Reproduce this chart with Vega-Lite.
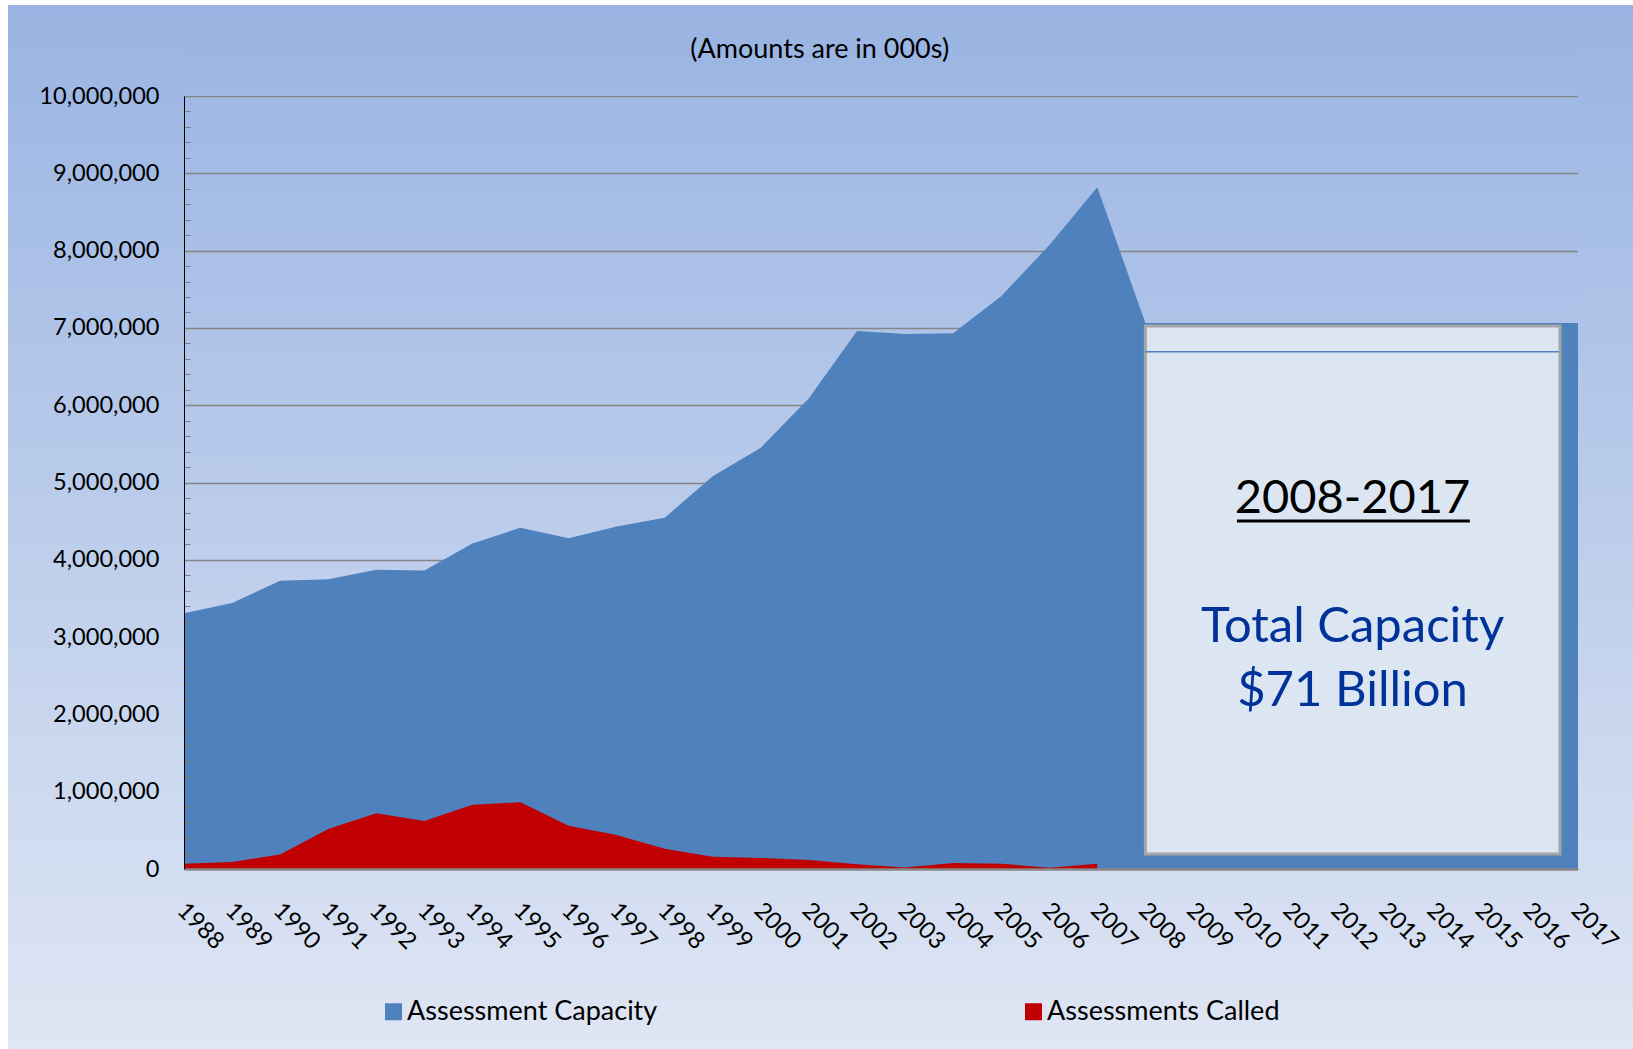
{
  "$schema": "https://vega.github.io/schema/vega-lite/v6.json",
  "width": 1394,
  "height": 773,
  "autosize": {"type": "none"},
  "padding": {"left": 184, "top": 96, "right": 55, "bottom": 180},
  "background": "white",
  "config": {
    "font": "Lato",
    "view": {
      "stroke": null,
      "fill": {"gradient": "linear", "x1": 0, "y1": 0, "x2": 0, "y2": 1, "stops": [{"offset": 0, "color": "#9fb8e4"}, {"offset": 1, "color": "#d3ddf1"}]}
    },
    "axis": {"labelFont": "Lato", "labelColor": "black"},
    "legend": {"labelFont": "Lato", "labelColor": "black"}
  },
  "datasets": {
    "one": [{}],
    "main": [
      {"year": 1988, "series": "Assessment Capacity", "value": 3310000},
      {"year": 1989, "series": "Assessment Capacity", "value": 3440000},
      {"year": 1990, "series": "Assessment Capacity", "value": 3730000},
      {"year": 1991, "series": "Assessment Capacity", "value": 3750000},
      {"year": 1992, "series": "Assessment Capacity", "value": 3870000},
      {"year": 1993, "series": "Assessment Capacity", "value": 3860000},
      {"year": 1994, "series": "Assessment Capacity", "value": 4210000},
      {"year": 1995, "series": "Assessment Capacity", "value": 4415000},
      {"year": 1996, "series": "Assessment Capacity", "value": 4280000},
      {"year": 1997, "series": "Assessment Capacity", "value": 4430000},
      {"year": 1998, "series": "Assessment Capacity", "value": 4545000},
      {"year": 1999, "series": "Assessment Capacity", "value": 5080000},
      {"year": 2000, "series": "Assessment Capacity", "value": 5450000},
      {"year": 2001, "series": "Assessment Capacity", "value": 6090000},
      {"year": 2002, "series": "Assessment Capacity", "value": 6960000},
      {"year": 2003, "series": "Assessment Capacity", "value": 6920000},
      {"year": 2004, "series": "Assessment Capacity", "value": 6930000},
      {"year": 2005, "series": "Assessment Capacity", "value": 7410000},
      {"year": 2006, "series": "Assessment Capacity", "value": 8070000},
      {"year": 2007, "series": "Assessment Capacity", "value": 8820000},
      {"year": 2008, "series": "Assessment Capacity", "value": 7063000},
      {"year": 2009, "series": "Assessment Capacity", "value": 7063000},
      {"year": 2010, "series": "Assessment Capacity", "value": 7063000},
      {"year": 2011, "series": "Assessment Capacity", "value": 7063000},
      {"year": 2012, "series": "Assessment Capacity", "value": 7063000},
      {"year": 2013, "series": "Assessment Capacity", "value": 7063000},
      {"year": 2014, "series": "Assessment Capacity", "value": 7063000},
      {"year": 2015, "series": "Assessment Capacity", "value": 7063000},
      {"year": 2016, "series": "Assessment Capacity", "value": 7063000},
      {"year": 2017, "series": "Assessment Capacity", "value": 7063000},
      {"year": 1988, "series": "Assessments Called", "value": 69000},
      {"year": 1989, "series": "Assessments Called", "value": 90000},
      {"year": 1990, "series": "Assessments Called", "value": 189000},
      {"year": 1991, "series": "Assessments Called", "value": 517000},
      {"year": 1992, "series": "Assessments Called", "value": 720000},
      {"year": 1993, "series": "Assessments Called", "value": 621000},
      {"year": 1994, "series": "Assessments Called", "value": 832000},
      {"year": 1995, "series": "Assessments Called", "value": 862000},
      {"year": 1996, "series": "Assessments Called", "value": 560000},
      {"year": 1997, "series": "Assessments Called", "value": 440000},
      {"year": 1998, "series": "Assessments Called", "value": 263000},
      {"year": 1999, "series": "Assessments Called", "value": 159000},
      {"year": 2000, "series": "Assessments Called", "value": 142000},
      {"year": 2001, "series": "Assessments Called", "value": 116000},
      {"year": 2002, "series": "Assessments Called", "value": 60000},
      {"year": 2003, "series": "Assessments Called", "value": 21000},
      {"year": 2004, "series": "Assessments Called", "value": 78000},
      {"year": 2005, "series": "Assessments Called", "value": 69000},
      {"year": 2006, "series": "Assessments Called", "value": 17000},
      {"year": 2007, "series": "Assessments Called", "value": 69000}
    ]
  },
  "resolve": {"axis": {"y": "independent", "x": "independent"}},
  "layer": [
    {
      "data": {"name": "one"},
      "mark": {"type": "rect", "color": {"gradient": "linear", "x1": 0, "y1": 0, "x2": 0, "y2": 1, "stops": [{"offset": 0, "color": "#99b4e2"}, {"offset": 1, "color": "#dfe6f4"}]}},
      "encoding": {
        "x": {"datum": 1984.3386, "type": "quantitative", "axis": null},
        "x2": {"datum": 1988},
        "y": {"datum": 11177231, "type": "quantitative", "axis": null},
        "y2": {"datum": -2328590}
      }
    },
    {
      "data": {"name": "one"},
      "mark": {"type": "rect", "color": {"gradient": "linear", "x1": 0, "y1": 0, "x2": 0, "y2": 1, "stops": [{"offset": 0, "color": "#99b4e2"}, {"offset": 1, "color": "#dfe6f4"}]}},
      "encoding": {
        "x": {"datum": 2017, "type": "quantitative", "axis": null},
        "x2": {"datum": 2018.2},
        "y": {"datum": 11177231, "type": "quantitative", "axis": null},
        "y2": {"datum": -2328590}
      }
    },
    {
      "data": {"name": "one"},
      "mark": {"type": "rect", "color": {"gradient": "linear", "x1": 0, "y1": 0, "x2": 0, "y2": 1, "stops": [{"offset": 0, "color": "#99b4e2"}, {"offset": 1, "color": "#9fb8e4"}]}},
      "encoding": {
        "x": {"datum": 1988, "type": "quantitative", "axis": null},
        "x2": {"datum": 2017},
        "y": {"datum": 11177231, "type": "quantitative", "axis": null},
        "y2": {"datum": 10000000}
      }
    },
    {
      "data": {"name": "one"},
      "mark": {"type": "rect", "color": {"gradient": "linear", "x1": 0, "y1": 0, "x2": 0, "y2": 1, "stops": [{"offset": 0, "color": "#d3ddf1"}, {"offset": 1, "color": "#dfe6f4"}]}},
      "encoding": {
        "x": {"datum": 1988, "type": "quantitative", "axis": null},
        "x2": {"datum": 2017},
        "y": {"datum": 0, "type": "quantitative", "axis": null},
        "y2": {"datum": -2328590}
      }
    },
    {
      "data": {"name": "main"},
      "mark": {"type": "area", "opacity": 1, "interpolate": "linear"},
      "encoding": {
        "x": {
          "field": "year",
          "type": "quantitative",
          "scale": {"domain": [1988, 2017], "nice": false, "zero": false},
          "axis": {
            "title": null,
            "orient": "bottom",
            "values": [1988, 1989, 1990, 1991, 1992, 1993, 1994, 1995, 1996, 1997, 1998, 1999, 2000, 2001, 2002, 2003, 2004, 2005, 2006, 2007, 2008, 2009, 2010, 2011, 2012, 2013, 2014, 2015, 2016, 2017],
            "format": "d",
            "labelAngle": 45,
            "labelAlign": "left",
            "labelBaseline": "top",
            "labelPadding": 29,
            "labelOffset": 5,
            "labelFlush": false,
            "labelOverlap": false,
            "labelFontSize": 23.6,
            "ticks": false,
            "grid": false,
            "domain": true,
            "domainColor": "#878787",
            "domainWidth": 2.5,
            "zindex": 1
          }
        },
        "y": {
          "field": "value",
          "type": "quantitative",
          "stack": null,
          "scale": {"domain": [0, 10000000], "nice": false},
          "axis": {
            "title": null,
            "orient": "left",
            "values": [0, 1000000, 2000000, 3000000, 4000000, 5000000, 6000000, 7000000, 8000000, 9000000, 10000000],
            "grid": true,
            "gridColor": "#858585",
            "gridWidth": 1.5,
            "labels": false,
            "ticks": false,
            "domain": false,
            "zindex": 0
          }
        },
        "color": {
          "field": "series",
          "type": "nominal",
          "scale": {"domain": ["Assessment Capacity", "Assessments Called"], "range": ["#4f81bd", "#c00000"]},
          "legend": {
            "title": null,
            "orient": "none",
            "legendX": 196,
            "legendY": 902,
            "direction": "horizontal",
            "symbolType": "square",
            "symbolSize": 289,
            "symbolStrokeWidth": 0,
            "symbolOpacity": 1,
            "labelFontSize": 27,
            "labelOffset": 0,
            "labelLimit": 600,
            "columnPadding": 362
          }
        }
      }
    },
    {
      "data": {"name": "one"},
      "mark": {"type": "rect", "fill": "#dce6f2", "stroke": "#a6a6a6", "strokeWidth": 3},
      "encoding": {
        "x": {"datum": 2008, "type": "quantitative", "axis": null},
        "x2": {"datum": 2016.625},
        "y": {
          "datum": 7024580,
          "type": "quantitative",
          "axis": {
            "title": null,
            "orient": "left",
            "values": [0, 200000, 400000, 600000, 800000, 1000000, 1200000, 1400000, 1600000, 1800000, 2000000, 2200000, 2400000, 2600000, 2800000, 3000000, 3200000, 3400000, 3600000, 3800000, 4000000, 4200000, 4400000, 4600000, 4800000, 5000000, 5200000, 5400000, 5600000, 5800000, 6000000, 6200000, 6400000, 6600000, 6800000, 7000000, 7200000, 7400000, 7600000, 7800000, 8000000, 8200000, 8400000, 8600000, 8800000, 9000000, 9200000, 9400000, 9600000, 9800000, 10000000],
            "labelExpr": "datum.value % 1000000 === 0 ? format(datum.value, ',') : ''",
            "labelFontSize": 23.6,
            "labelPadding": 31,
            "grid": false,
            "domain": true,
            "domainColor": "black",
            "domainWidth": 1,
            "ticks": true,
            "tickSize": -6,
            "tickWidth": 1,
            "tickColor": "#7f7f7f",
            "tickOpacity": {"condition": {"test": "datum.value % 1000000 === 0", "value": 0}, "value": 1},
            "labelOverlap": false,
            "labelFlush": false,
            "zindex": 1
          }
        },
        "y2": {"datum": 194050}
      }
    },
    {
      "data": {"name": "one"},
      "mark": {"type": "rule", "color": "#4f81bd", "strokeWidth": 1.5},
      "encoding": {
        "x": {"datum": 2008, "type": "quantitative", "axis": null},
        "x2": {"datum": 2016.6},
        "y": {"datum": 6692000, "type": "quantitative", "axis": null}
      }
    },
    {
      "data": {"name": "one"},
      "mark": {"type": "text", "align": "center", "baseline": "alphabetic", "fontSize": 47, "color": "black", "text": "2008-2017"},
      "encoding": {
        "x": {"datum": 2012.31, "type": "quantitative", "axis": null},
        "y": {"datum": 4601600, "type": "quantitative", "axis": null}
      }
    },
    {
      "data": {"name": "one"},
      "mark": {"type": "rule", "color": "black", "strokeWidth": 3},
      "encoding": {
        "x": {"datum": 2009.905, "type": "quantitative", "axis": null},
        "x2": {"datum": 2014.75},
        "y": {"datum": 4501900, "type": "quantitative", "axis": null}
      }
    },
    {
      "data": {"name": "one"},
      "mark": {"type": "text", "align": "center", "baseline": "alphabetic", "fontSize": 49, "color": "#003399", "text": "Total Capacity"},
      "encoding": {
        "x": {"datum": 2012.31, "type": "quantitative", "axis": null},
        "y": {"datum": 2940000, "type": "quantitative", "axis": null}
      }
    },
    {
      "data": {"name": "one"},
      "mark": {"type": "text", "align": "center", "baseline": "alphabetic", "fontSize": 49, "color": "#003399", "text": "$71 Billion"},
      "encoding": {
        "x": {"datum": 2012.31, "type": "quantitative", "axis": null},
        "y": {"datum": 2108700, "type": "quantitative", "axis": null}
      }
    },
    {
      "data": {"name": "one"},
      "mark": {"type": "text", "align": "center", "baseline": "alphabetic", "fontSize": 27, "color": "black", "text": "(Amounts are in 000s)"},
      "encoding": {
        "x": {"datum": 2001.225, "type": "quantitative", "axis": null},
        "y": {"datum": 10495472, "type": "quantitative", "axis": null}
      }
    }
  ]
}
